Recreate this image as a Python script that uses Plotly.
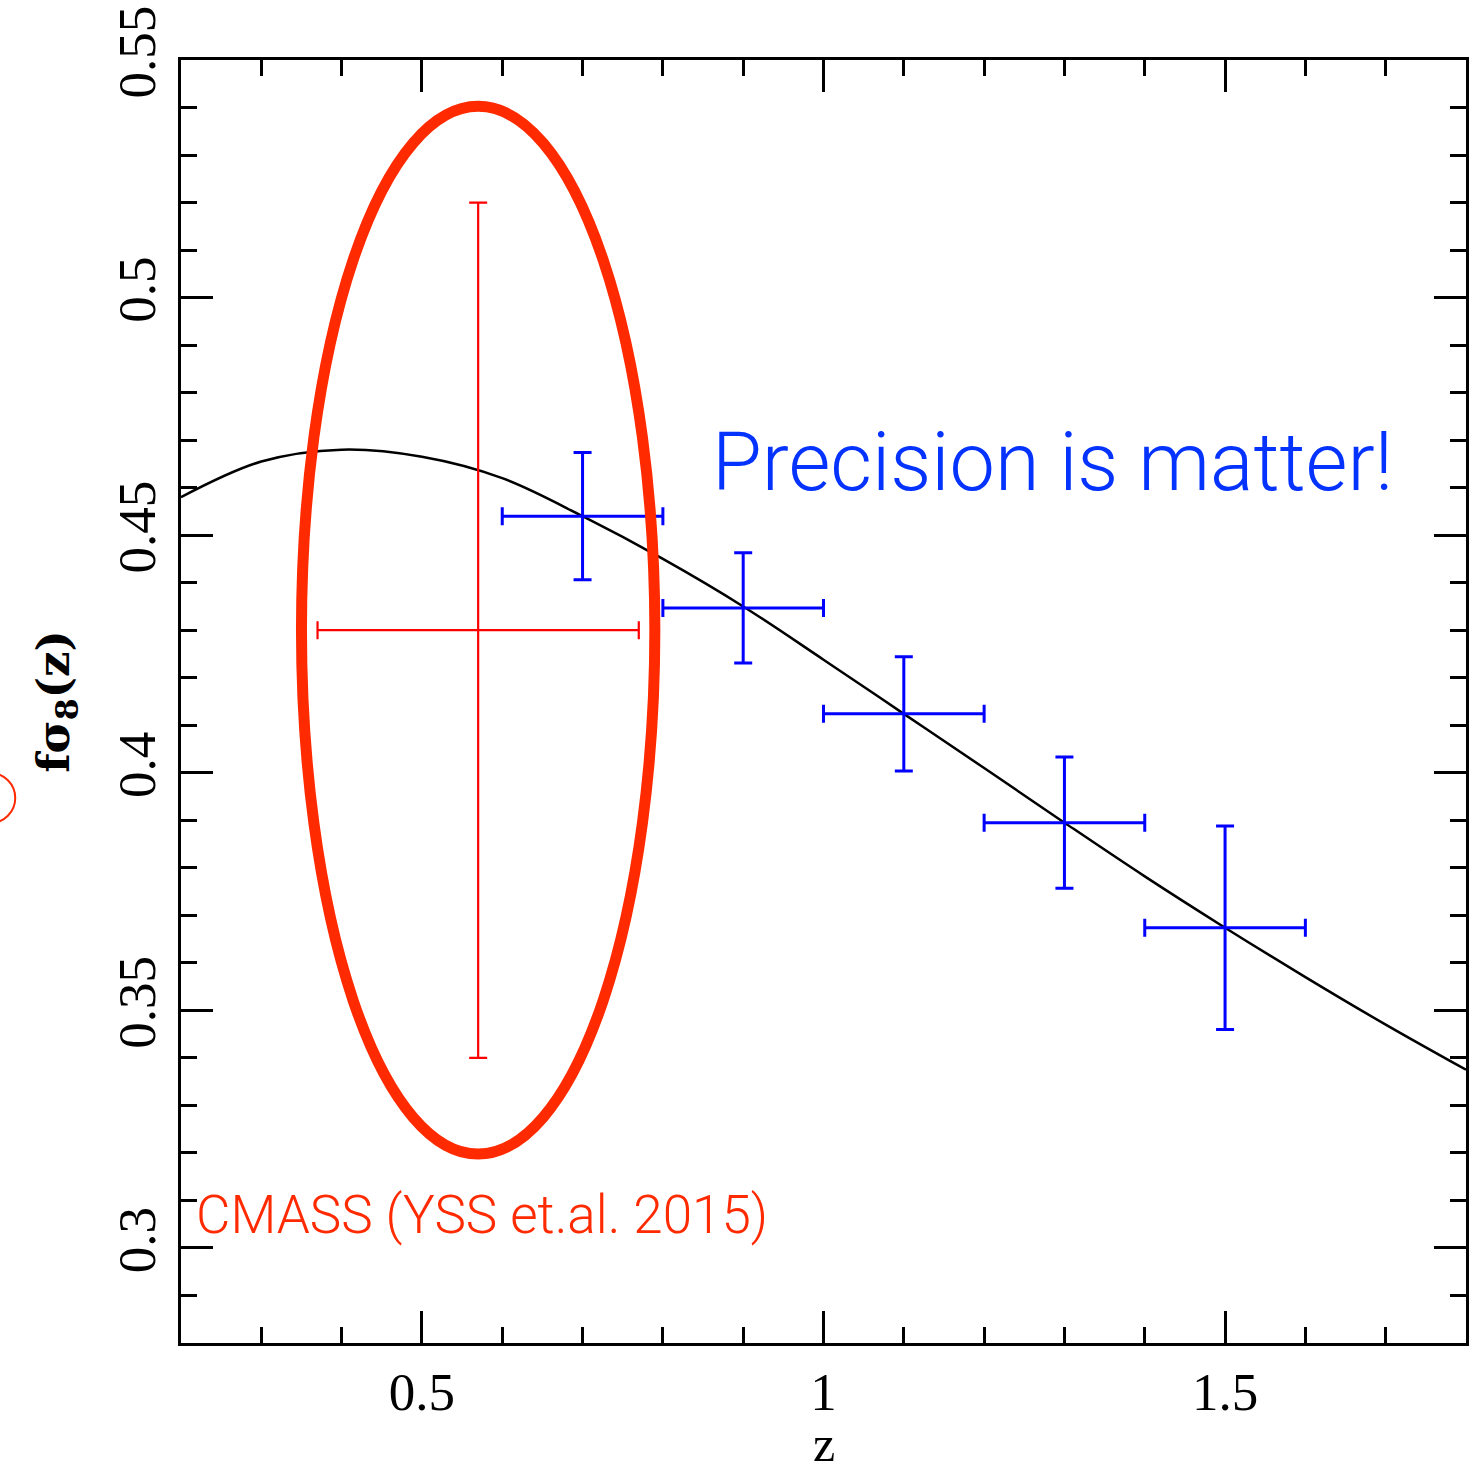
import plotly.graph_objects as go

# ---- data ----
curve_z = [0.2, 0.3, 0.4, 0.5, 0.6, 0.7, 0.8, 0.9, 1.0, 1.1, 1.2, 1.3, 1.4, 1.5, 1.6, 1.7, 1.8]
curve_fs8 = [0.458, 0.4655, 0.468, 0.4665, 0.462, 0.454, 0.445, 0.435, 0.4238, 0.4124,
             0.401, 0.3895, 0.3782, 0.3674, 0.357, 0.347, 0.3375]

cmass_z = [0.57]
cmass_fs8 = [0.43]
cmass_zerr = [0.2]
cmass_fs8err = [0.09]

fc_z = [0.7, 0.9, 1.1, 1.3, 1.5]
fc_fs8 = [0.454, 0.4347, 0.4124, 0.3895, 0.3674]
fc_zerr = [0.1, 0.1, 0.1, 0.1, 0.1]
fc_fs8err_plus = [0.0134, 0.0116, 0.012, 0.0138, 0.0214]
fc_fs8err_minus = [0.0134, 0.0116, 0.012, 0.0138, 0.0214]

x_ticks = [0.5, 1.0, 1.5]
x_ticktext = ["0.5", "1", "1.5"]
y_ticks = [0.3, 0.35, 0.4, 0.45, 0.5, 0.55]
y_ticktext = ["0.3", "0.35", "0.4", "0.45", "0.5", "0.55"]

RED_ORANGE = "#FF2A00"
BLUE_TXT = "#0433FF"

fig = go.Figure()

fig.add_trace(go.Scatter(
    x=curve_z, y=curve_fs8, mode="lines", line=dict(color="black", width=2.5, shape="spline"),
    showlegend=False, hoverinfo="skip"))

fig.add_trace(go.Scatter(
    x=cmass_z, y=cmass_fs8, mode="markers", marker=dict(size=1, color="#FF0000", opacity=0),
    error_x=dict(type="data", array=cmass_zerr, color="#FF0000", thickness=2.2, width=9),
    error_y=dict(type="data", array=cmass_fs8err, color="#FF0000", thickness=2.2, width=9),
    showlegend=False))

fig.add_trace(go.Scatter(
    x=fc_z, y=fc_fs8, mode="markers", marker=dict(size=1, color="#0000FF", opacity=0),
    error_x=dict(type="data", array=fc_zerr, color="#0000FF", thickness=3, width=9),
    error_y=dict(type="data", array=fc_fs8err_plus, arrayminus=fc_fs8err_minus,
                 color="#0000FF", thickness=3, width=9),
    showlegend=False))

# highlight ellipse around the CMASS point
cx, cy = cmass_z[0], cmass_fs8[0]
rx, ry = cmass_zerr[0] * 1.1, cmass_fs8err[0] * 1.225
fig.add_shape(type="circle", xref="x", yref="y", x0=cx - rx, x1=cx + rx, y0=cy - ry, y1=cy + ry,
              line=dict(color=RED_ORANGE, width=11))

# cropped circle fragment at left edge
fig.add_shape(type="circle", xref="paper", yref="paper", x0=-0.168, x1=-0.129, y0=0.4053, y1=0.4443,
              line=dict(color=RED_ORANGE, width=2))

fig.add_annotation(x=1.285, y=0.4653, xref="x", yref="y", text="Precision is matter!",
                   showarrow=False, font=dict(family="Roboto", size=81, color=BLUE_TXT, weight=300))
fig.add_annotation(x=0.216, y=0.307, xref="x", yref="y", text="CMASS (YSS et.al. 2015)",
                   showarrow=False, xanchor="left",
                   font=dict(family="Roboto", size=53, color=RED_ORANGE, weight=300))

# x-axis title placed below the tick labels
fig.add_annotation(x=0.5, y=-0.1013, xref="paper", yref="paper", text="z",
                   showarrow=False, xanchor="center", yanchor="bottom", yshift=-1,
                   font=dict(family="Liberation Serif", size=50, color="black"))

axis_common = dict(
    showline=True, linecolor="black", linewidth=3, mirror="allticks",
    ticks="inside", ticklen=32, tickwidth=2.5, tickcolor="black",
    showgrid=False, zeroline=False,
    tickfont=dict(family="Liberation Serif", size=53, color="black"),
)

fig.update_xaxes(
    range=[0.2, 1.8], tickvals=x_ticks, ticktext=x_ticktext,
    minor=dict(dtick=0.1, tick0=0.0, ticks="inside", ticklen=16, tickwidth=2.5, tickcolor="black", showgrid=False),
    ticklabelstandoff=0,
    **axis_common)
fig.update_yaxes(
    range=[0.28, 0.55], tickvals=y_ticks, ticktext=y_ticktext, tickangle=-90,
    minor=dict(dtick=0.01, tick0=0.0, ticks="inside", ticklen=16, tickwidth=2.5, tickcolor="black", showgrid=False),
    title=dict(text="<b>fσ<sub>8</sub>(z)</b>", font=dict(family="DejaVu Serif", size=45, color="black"), standoff=25),
    ticklabelstandoff=2,
    **axis_common)

fig.update_layout(
    width=1476, height=1473, autosize=False,
    margin=dict(l=181, r=10, t=60, b=130, autoexpand=False),
    plot_bgcolor="white", paper_bgcolor="white",
)

fig.write_html("out.html")
